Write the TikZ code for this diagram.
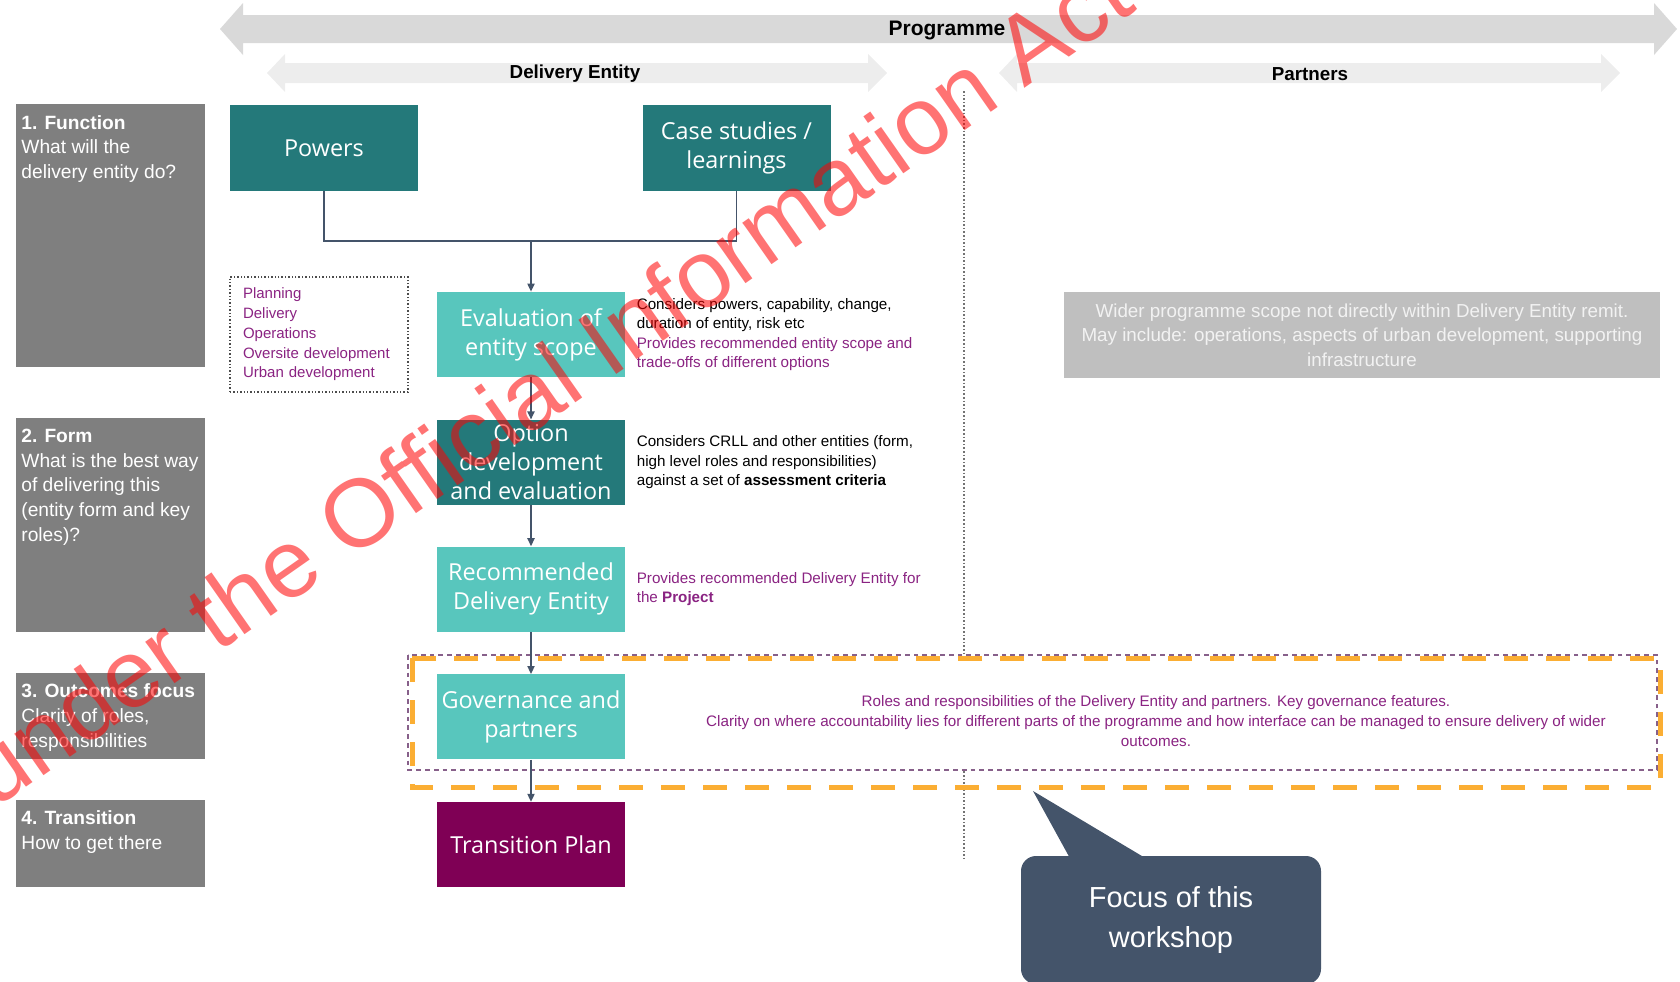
\documentclass[tikz,border=0pt]{standalone}
\usepackage{fontspec}
\setmainfont{Liberation Sans}
\newfontfamily\boxfont{Open Sans}
\usetikzlibrary{positioning,arrows.meta}

\definecolor{darkteal}{HTML}{24797A}
\definecolor{lightteal}{HTML}{58C6BD}
\definecolor{plum}{HTML}{7F0055}
\definecolor{sidegrey}{HTML}{7F7F7F}
\definecolor{widegrey}{HTML}{BFBFBF}
\definecolor{bandgrey}{HTML}{D9D9D9}
\definecolor{bandlight}{HTML}{EDEDED}
\definecolor{notepurple}{HTML}{8A2382}
\definecolor{slate}{HTML}{44546A}
\definecolor{focusorange}{HTML}{FBAE33}
\definecolor{focuspurple}{HTML}{87608A}

\begin{document}
\begin{tikzpicture}[x=0.5pt,y=-0.5pt,
  node distance=21pt,
  every node/.style={font=\fontsize{7.6}{9.8}\selectfont},
  stage/.style={rectangle,inner sep=0pt,minimum width=94pt,minimum height=42.5pt,
    align=center,text=white,font=\boxfont\fontsize{11.7}{14.5}\selectfont},
  side/.style={rectangle,fill=sidegrey,minimum width=94.5pt,inner sep=0pt},
  sidetext/.style={anchor=north west,align=left,text=white,inner sep=0pt,
    font=\fontsize{9.6}{12.3}\selectfont},
  note/.style={anchor=west,align=left,inner sep=0pt},
  link/.style={draw=slate,line width=0.7pt},
  flow/.style={link,-{Triangle[length=4pt,width=3.6pt]}},
  band/.style={inner sep=0pt,font=\bfseries\fontsize{9.4}{11}\selectfont},
  wmark/.style={text=red,text opacity=0.55,rotate=35,inner sep=0pt,
    font=\fontsize{48}{52}\selectfont}]

\useasboundingbox (0,0) rectangle (1680,981);

% header bands
\fill[bandgrey] (220,29) -- (243,3) -- (243,15) -- (1654,15) -- (1654,3) -- (1677,29)
  -- (1654,55) -- (1654,43) -- (243,43) -- (243,55) -- cycle;
\fill[bandlight] (267,73) -- (285,54) -- (285,63) -- (868,63) -- (868,54) -- (887,73)
  -- (868,92) -- (868,83) -- (285,83) -- (285,92) -- cycle;
\fill[bandlight] (999,73) -- (1017,54) -- (1017,63) -- (1601,63) -- (1601,54) -- (1620,73)
  -- (1601,92) -- (1601,83) -- (1017,83) -- (1017,92) -- cycle;
\node[band,font=\bfseries\fontsize{10.5}{12}\selectfont] (prog) at (947,30) {Programme};
\node[band] (entity) at (575,74) {Delivery Entity};
\node[band] (partners) at (1310,74) {Partners};

% divider
\coordinate (dtop) at (964,91);
\coordinate (dbot) at (964,860);
\draw[black!55,densely dotted,line width=0.8pt] (dtop) -- (dbot);

% questions on the left
\node[side,minimum height=131.5pt,anchor=north west] (fn) at (16,104) {};
\node[side,minimum height=107pt,below=25pt of fn] (fm) {};
\node[side,minimum height=43pt,below=20pt of fm] (oc) {};
\node[side,minimum height=43.5pt,below=20pt of oc] (tr) {};
\node[sidetext] (fntext) at ([xshift=2.5pt,yshift=-5.5pt]fn.north west)
  {\textbf{1. Function}\\What will the\\delivery entity do?};
\node[sidetext] (fmtext) at ([xshift=2.5pt,yshift=-5.5pt]fm.north west)
  {\textbf{2. Form}\\What is the best way\\of delivering this\\(entity form and key\\roles)?};
\node[sidetext] (octext) at ([xshift=2.5pt,yshift=-5.5pt]oc.north west)
  {\textbf{3. Outcomes focus}\\Clarity of roles,\\responsibilities};
\node[sidetext] (trtext) at ([xshift=2.5pt,yshift=-5.5pt]tr.north west)
  {\textbf{4. Transition}\\How to get there};

% focus frame
\draw[focuspurple,fill=white,line width=1pt,dash pattern=on 2.4pt off 2pt]
  (408,655) rectangle (1657,770);
\draw[focusorange,line width=2.5pt,dash pattern=on 12pt off 9pt]
  (412,658) rectangle (1660,787);

% stages
\node[stage,fill=darkteal,minimum height=43pt] (powers) at (324,148) {Powers};
\node[stage,fill=darkteal,minimum height=43pt] (cases) at (736.5,148) {Case studies /\\learnings};
\node[stage,fill=lightteal] (eval) at (531,334.5) {Evaluation of\\entity scope};
\node[stage,fill=darkteal,below=of eval] (option) {Option\\development\\and evaluation};
\node[stage,fill=lightteal,below=20.5pt of option] (rec) {Recommended\\Delivery Entity};
\node[stage,fill=lightteal,below=of rec] (gov) {Governance and\\partners};
\node[stage,fill=plum,below=of gov] (trans) {Transition Plan};

\coordinate (join) at (531,241);
\draw[link] (powers.south) |- (join) -| (cases.south);
\draw[flow] (join) -- (eval);
\draw[flow] (eval) -- (option);
\draw[flow] (option) -- (rec);
\draw[flow] (rec) -- (gov);
\draw[flow] (gov) -- (trans);

% notes
\node[draw=black!70,densely dotted,line width=0.7pt,text width=76pt,inner xsep=6.5pt,
  minimum height=57.5pt,align=left,text=notepurple,
  font=\fontsize{7.5}{9.85}\selectfont] (scope) at (319,334.5)
  {Planning\\Delivery\\Operations\\Oversite development\\Urban development};
\node[note,right=5.5pt of eval] (evalnote)
  {Considers powers, capability, change,\\duration of entity, risk etc\\
   \textcolor{notepurple}{Provides recommended entity scope and}\\
   \textcolor{notepurple}{trade-offs of different options}};
\node[note,right=5.5pt of option] (optionnote)
  {Considers CRLL and other entities (form,\\high level roles and responsibilities)\\
   against a set of \textbf{assessment criteria}};
\node[note,right=5.5pt of rec,text=notepurple] (recnote)
  {Provides recommended Delivery Entity for\\the \textbf{Project}};
\node[align=center,text=notepurple,inner sep=0pt] (govnote) at (1156,721)
  {Roles and responsibilities of the Delivery Entity and partners. Key governance features.\\
   Clarity on where accountability lies for different parts of the programme and how interface can be managed to ensure delivery of wider\\
   outcomes.};
\node[rectangle,fill=widegrey,minimum width=298pt,minimum height=43pt,inner sep=0pt,
  text=white!95!black,align=center,font=\fontsize{9.4}{12.3}\selectfont] (wider) at (1362,335)
  {Wider programme scope not directly within Delivery Entity remit.\\
   May include: operations, aspects of urban development, supporting\\infrastructure};

% callout
\node[rectangle,fill=slate,rounded corners=7.5pt,minimum width=150pt,minimum height=64pt,
  inner sep=0pt,text=white,align=center,font=\fontsize{14.5}{20}\selectfont] (focus)
  at (1171,920) {Focus of this\\workshop};
\coordinate (tip) at (1033,791);
\fill[slate] ([xshift=24.5pt,yshift=-1pt]focus.north west) -- (tip)
  -- ([xshift=62pt,yshift=-1pt]focus.north west) -- cycle;

% stamp
\node[wmark] (stamp) at (370,505) {Released under the Official Information Act};
\end{tikzpicture}
\end{document}
